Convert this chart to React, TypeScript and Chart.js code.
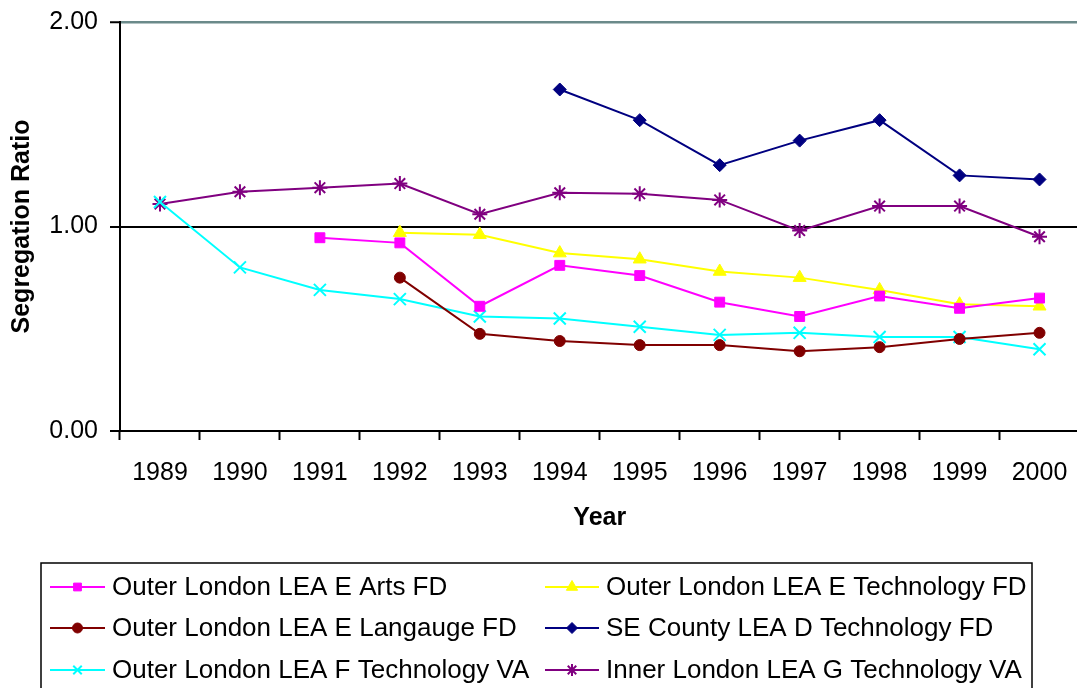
import React, { useEffect, useRef } from 'react';
import { Chart, registerables } from 'chart.js';
import { drawPoint } from 'chart.js/helpers';

Chart.register(...registerables);

const years = ['1989', '1990', '1991', '1992', '1993', '1994', '1995', '1996', '1997', '1998', '1999', '2000'];

const artsE = [null, null, 0.945, 0.92, 0.61, 0.81, 0.76, 0.63, 0.56, 0.66, 0.6, 0.65];
const techE = [null, null, null, 0.97, 0.96, 0.87, 0.84, 0.78, 0.75, 0.69, 0.62, 0.61];
const langE = [null, null, null, 0.75, 0.475, 0.44, 0.42, 0.42, 0.39, 0.41, 0.45, 0.48];
const seCountyD = [null, null, null, null, null, 1.67, 1.52, 1.3, 1.42, 1.52, 1.25, 1.23];
const techF = [1.12, 0.8, 0.69, 0.645, 0.56, 0.55, 0.51, 0.47, 0.48, 0.46, 0.46, 0.4];
const techG = [1.11, 1.17, 1.19, 1.21, 1.06, 1.165, 1.16, 1.13, 0.98, 1.1, 1.1, 0.95];

const seriesLabels = [
  'Outer London LEA E Arts FD',
  'Outer London LEA E Technology FD',
  'Outer London LEA E Langauge FD',
  'SE County LEA D Technology FD',
  'Outer London LEA F Technology VA',
  'Inner London LEA G Technology VA',
];

const yTicks = [0, 1, 2];

const FONT = "'Liberation Sans', Arial, Helvetica, sans-serif";

const legendRadius = [5.5, 6.5, 5, 5.5, 6, 6];

const boxLegend = {
  id: 'boxLegend',
  afterDraw(chart: any) {
    const ctx = chart.ctx as CanvasRenderingContext2D;
    ctx.save();
    ctx.strokeStyle = '#000000';
    ctx.lineWidth = 1.5;
    ctx.strokeRect(41, 563, 991, 150);
    const cols = [
      { lx0: 50, lx1: 105, tx: 112 },
      { lx0: 545, lx1: 599, tx: 606 },
    ];
    const rows = [587, 628, 670];
    chart.data.datasets.forEach((ds: any, i: number) => {
      const c = cols[i % 2];
      const y = rows[Math.floor(i / 2)];
      ctx.strokeStyle = ds.borderColor;
      ctx.lineWidth = 2;
      ctx.beginPath();
      ctx.moveTo(c.lx0, y);
      ctx.lineTo(c.lx1, y);
      ctx.stroke();
      ctx.fillStyle = ds.pointBackgroundColor;
      ctx.strokeStyle = ds.pointBorderColor;
      ctx.lineWidth = ds.pointBorderWidth;
      drawPoint(ctx, { pointStyle: ds.pointStyle, radius: legendRadius[i], borderWidth: ds.pointBorderWidth, rotation: 0 } as any, (c.lx0 + c.lx1) / 2, y);
      ctx.fillStyle = '#000000';
      ctx.font = `26px ${FONT}`;
      ctx.textAlign = 'left';
      ctx.textBaseline = 'middle';
      ctx.fillText(ds.label, c.tx, y + 1);
    });
    ctx.restore();
  },
};

function mk(label: string, data: (number | null)[], color: string, style: string, radius: number, bw: number) {
  return {
    label,
    data,
    borderColor: color,
    backgroundColor: color,
    borderWidth: 2,
    pointStyle: style,
    pointRadius: radius,
    pointHoverRadius: radius,
    pointBackgroundColor: color,
    pointBorderColor: color,
    pointBorderWidth: bw,
    tension: 0,
    spanGaps: false,
  };
}

export default function App() {
  const ref = useRef<HTMLCanvasElement | null>(null);
  useEffect(() => {
    if (!ref.current) return;
    const chart = new Chart(ref.current, {
      type: 'line',
      data: {
        labels: years,
        datasets: [
          mk(seriesLabels[0], artsE, '#FF00FF', 'rect', 7, 1),
          mk(seriesLabels[1], techE, '#FFFF00', 'triangle', 7.5, 1),
          mk(seriesLabels[2], langE, '#800000', 'circle', 5.5, 1),
          mk(seriesLabels[3], seCountyD, '#000080', 'rectRot', 6.5, 1),
          mk(seriesLabels[4], techF, '#00FFFF', 'crossRot', 8.5, 2),
          mk(seriesLabels[5], techG, '#800080', 'star', 7.5, 2),
        ] as any,
      },
      options: {
        animation: false,
        responsive: false,
        events: [],
        layout: { padding: { top: 22, right: 0, bottom: 0, left: 0 } },
        plugins: {
          legend: { display: false },
          tooltip: { enabled: false },
          title: { display: false },
        },
        scales: {
          x: {
            type: 'category',
            offset: true,
            grid: {
              offset: true,
              drawOnChartArea: false,
              drawTicks: true,
              tickLength: 9,
              tickColor: '#000000',
              tickWidth: 2,
            },
            border: { display: true, color: '#000000', width: 2 },
            ticks: {
              color: '#000000',
              font: { family: FONT, size: 25 },
              padding: 18,
              maxRotation: 0,
              autoSkip: false,
            },
            title: {
              display: true,
              text: 'Year',
              color: '#000000',
              font: { family: FONT, size: 25, weight: 'bold' },
              padding: { top: 0, bottom: 155 },
            },
            afterFit(scale: any) {
              scale.height = 257;
            },
          },
          y: {
            type: 'linear',
            min: 0,
            max: 2,
            afterBuildTicks(scale: any) {
              scale.ticks = yTicks.map((v) => ({ value: v }));
            },
            grid: {
              drawOnChartArea: true,
              drawTicks: true,
              tickLength: 10,
              tickColor: '#000000',
              tickWidth: 2,
              color: (ctx: any) => (ctx.tick && ctx.tick.value === 2 ? '#6b8a8a' : '#000000'),
              lineWidth: (ctx: any) => (ctx.tick && ctx.tick.value === 2 ? 2.5 : 2),
            },
            border: { display: true, color: '#000000', width: 2 },
            ticks: {
              color: '#000000',
              font: { family: FONT, size: 25, lineHeight: 0.5 },
              padding: 12,
              callback: (v: any) => Number(v).toFixed(2),
            },
            title: {
              display: true,
              text: 'Segregation Ratio',
              color: '#000000',
              font: { family: FONT, size: 25, weight: 'bold' },
              padding: { top: 7, bottom: 0 },
            },
            afterFit(scale: any) {
              scale.width = 120;
            },
          },
        },
      } as any,
      plugins: [boxLegend],
    });
    return () => chart.destroy();
  }, []);

  return (
    <div style={{ position: 'absolute', left: 0, top: 0, width: 1077, height: 688, overflow: 'hidden', background: '#ffffff' }}>
      <canvas ref={ref} width={1090} height={688} style={{ display: 'block', width: 1090, height: 688 }} />
    </div>
  );
}
